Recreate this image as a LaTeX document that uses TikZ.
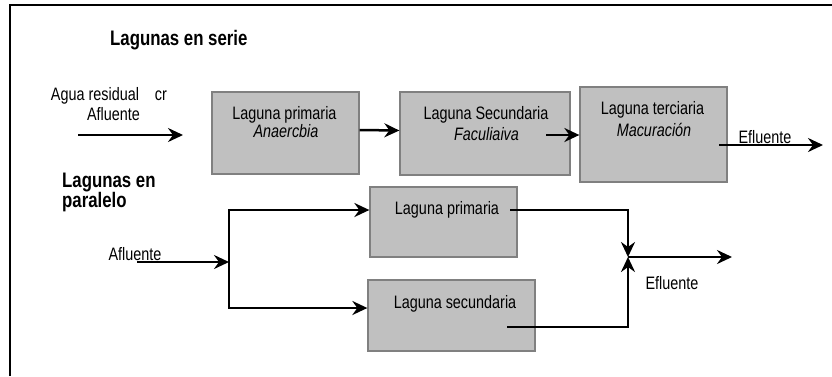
\documentclass[tikz,border=0pt]{standalone}
\usepackage{fontspec}
\setmainfont{Liberation Sans}[FakeStretch=0.8]
\usetikzlibrary{arrows.meta,fit}
\definecolor{boxfill}{RGB}{192,192,192}
\definecolor{boxline}{RGB}{128,128,128}
\begin{document}
\begin{tikzpicture}[x=1pt,y=-1pt,
  box/.style={draw=boxline, fill=boxfill, line width=1.3pt, inner sep=0pt},
  boxtext/.style={font=\fontsize{18}{20}\selectfont, inner sep=0pt, anchor=base},
  lbl/.style={font=\fontsize{18}{20}\selectfont, inner sep=0pt, anchor=base},
  head/.style={font=\fontsize{21}{20}\selectfont\bfseries, inner sep=0pt, align=left},
  conn/.style={line width=2.5pt},
  arr/.style={conn, -{Stealth[length=15pt,width=14pt,inset=5pt]}}]
\useasboundingbox (0,0) rectangle (832,376);
% frame
\draw[line width=2pt] (9.5,376) -- (9.5,4.5) -- (832,4.5);

% headings
\node[head, anchor=base west] (hs) at (110,45.7) {Lagunas en serie};
\node[head, anchor=north west] (hp) at (62,172.5) {Lagunas en\\paralelo};

% series boxes
\node[box, fit={(212,92) (359,174)}] (b1) {};
\node[box, fit={(400,92) (570,175)}] (b2) {};
\node[box, fit={(580,87) (727,182)}] (b3) {};
\node[boxtext] (t1a) at (284.5,119) {Laguna primaria};
\node[boxtext] (t1b) at (286,137) {\itshape Anaercbia};
\node[boxtext] (t2a) at (486,119) {Laguna Secundaria};
\node[boxtext] (t2b) at (486.5,140) {\itshape Faculiaiva};
\node[boxtext] (t3a) at (652.5,114) {Laguna terciaria};
\node[boxtext] (t3b) at (654,136.5) {\itshape Macuración};

% series input
\node[lbl] (ain1) at (109,100) {Agua residual\hspace{16pt}cr};
\node[lbl] (ain2) at (113.5,120) {Afluente};
\coordinate (a0) at (78,135);
\coordinate (a1) at (183,135);
\draw[arr] (a0) -- (a1);
\draw[arr] ([yshift=3pt]b1.east) -- ([yshift=3pt]b2.west);
\coordinate (s23) at (546,135);
\draw[arr] (s23) -- (s23 -| b3.west);
\coordinate (e0) at (719,145);
\coordinate (e1) at (823,145);
\draw[arr] (e0) -- (e1);
\node[lbl] (ef1) at (765,143) {Efluente};

% parallel
\node[box, fit={(370,187) (517,257)}] (p1) {};
\node[box, fit={(368,280) (535,351)}] (p2) {};
\node[boxtext] (tp1) at (447,214) {Laguna primaria};
\node[boxtext] (tp2) at (455,308) {Laguna secundaria};

\node[lbl] (af) at (135,260) {Afluente};
\coordinate (f0) at (137,262);
\coordinate (j) at (229,262);
\draw[arr] (f0) -- (j);
\draw[arr] (j) |- ([yshift=12pt]p1.west);
\draw[arr] (j) |- ([yshift=7.5pt]p2.west);

\coordinate (o1) at (510,210);
\coordinate (o2) at (507,327);
\coordinate (m) at (628,257);
\coordinate (m1) at (732,257);
\draw[arr] (o1) -| (m);
\draw[arr] (o2) -| (m);
\draw[arr] (m) -- (m1);
\node[lbl] (ef2) at (672,289) {Efluente};
\end{tikzpicture}
\end{document}
